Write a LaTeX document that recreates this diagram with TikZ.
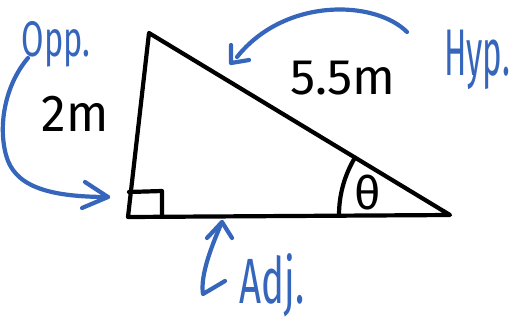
\documentclass[tikz,border=0pt]{standalone}
\usepackage{fontspec}
\setmainfont{Fira Sans}
\definecolor{penblue}{RGB}{54,102,188}
\begin{document}
\begin{tikzpicture}[x=1pt,y=-1pt,
  ink/.style={line width=4.2pt,line cap=round,line join=round,black},
  blueink/.style={line width=4.2pt,line cap=round,line join=round,penblue},
  blk/.style={black,inner sep=0pt,anchor=base},
  blu/.style={penblue,inner sep=0pt,anchor=base}]
\useasboundingbox (0,0) rectangle (514,322);
% triangle
\coordinate (T) at (149,33);
\coordinate (L) at (128,217);
\coordinate (R) at (450,215);
\draw[ink] (T) -- (L) -- (R) -- cycle;
% right angle mark
\coordinate (s1) at (129,192);
\coordinate (s2) at (162,191);
\coordinate (s3) at (162,217);
\draw[ink] (s1) -- (s2) -- (s3);
% angle arc
\draw[ink] (R) ++(180:111) arc[start angle=180,end angle=211.2,radius=111];
% black labels
\node[blk,font=\fontsize{52}{52}\selectfont] (two) at (75,131) {\scalebox{0.95}[1]{2m}};
\node[blk,font=\fontsize{50}{50}\selectfont] (hyplen) at (343,94) {5.5m};
\node[black,inner sep=0pt,font=\fontsize{46}{46}\selectfont] (theta) at (368,193) {θ};
% blue labels
\node[blu,font=\fontsize{50}{50}\selectfont] (opp) at (56,56) {\scalebox{0.65}[1]{Opp.}};
\node[blu,font=\fontsize{66}{66}\selectfont] (hyp) at (477,75) {\scalebox{0.5}[1]{Hyp.}};
\node[blu,font=\fontsize{64}{64}\selectfont] (adj) at (272,303) {\scalebox{0.6}[1]{Adj.}};
% Opp arrow
\coordinate (o0) at (28,58);
\coordinate (o1) at (6,155);
\coordinate (ot) at (108,197);
\coordinate (oa) at (85,182);
\coordinate (ob) at (82,208);
\draw[blueink] (o0) .. controls (5,85) and (-2,125) .. (o1) .. controls (14,185) and (45,197) .. (ot);
\draw[blueink] (oa) -- (ot) -- (ob);
% Hyp arrow
\coordinate (h0) at (407,32);
\coordinate (ht) at (231,63);
\coordinate (hs) at (237,57);
\coordinate (ha) at (231,45);
\coordinate (hb) at (249,60);
\draw[blueink] (h0) .. controls (375,0) and (285,-3) .. (hs);
\draw[blueink] (ha) -- (ht) -- (hb);
% Adj arrow
\coordinate (at) at (222,222);
\coordinate (a1) at (203,294);
\coordinate (a2) at (225,281);
\coordinate (aa) at (207,238);
\coordinate (ab) at (232,238);
\draw[blueink] (at) .. controls (212,245) and (200,275) .. (a1) -- (a2);
\draw[blueink] (aa) -- (at) -- (ab);
\end{tikzpicture}
\end{document}
